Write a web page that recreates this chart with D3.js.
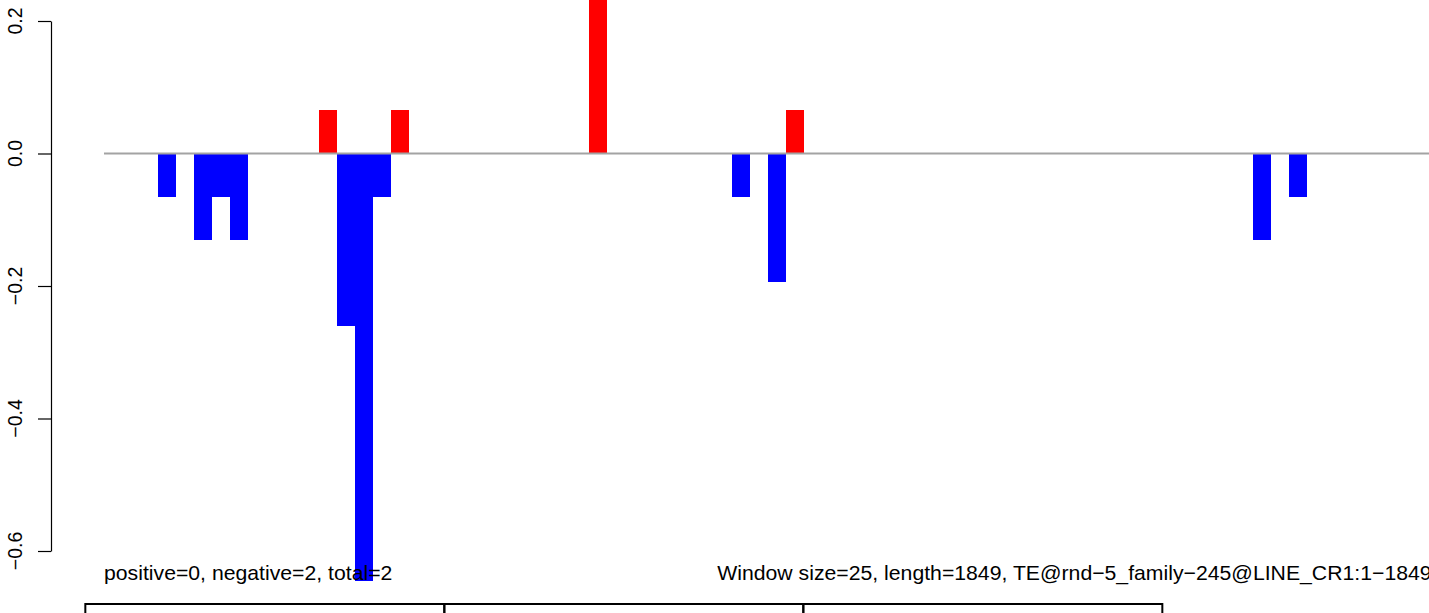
<!DOCTYPE html>
<html>
<head>
<meta charset="utf-8">
<script src="https://cdn.jsdelivr.net/npm/d3@7"></script>
<style>
  html, body { margin: 0; padding: 0; background: #fff; }
  svg { display: block; }
  text { font-family: "Liberation Sans", Arial, Helvetica, sans-serif; fill: #000; }
</style>
</head>
<body>
<svg id="chart" width="1429" height="613"></svg>
<script>
// ---- data ----
const seqLength = 1849;
const windowSize = 25;
const windowIndex = [3, 5, 6, 7, 12, 13, 14, 15, 16, 27, 35, 37, 38, 64, 66];
const windowValue = [-0.065, -0.13, -0.065, -0.13, 0.065, -0.26, -0.645, -0.065, 0.065, 0.26, -0.065, -0.194, 0.065, -0.13, -0.065];
const yTicks = [-0.6, -0.4, -0.2, 0.0, 0.2];
const boxStarts = [-26, 474, 974];
const boxLength = 500;
const leftLabel = "positive=0, negative=2, total=2";
const rightLabel = "Window size=25, length=1849, TE@rnd\u22125_family\u2212245@LINE_CR1:1\u22121849";

// ---- layout ----
const svg = d3.select("#chart");
const x = d3.scaleLinear().domain([0, seqLength]).range([104, 104 + seqLength * 0.718]);
const y = d3.scaleLinear().domain([-0.6, 0.2]).range([551, 21]);
const fmt = v => d3.format(".1f")(v);

// bars
const bars = windowIndex.map((w, i) => ({ start: w * windowSize, end: (w + 1) * windowSize, v: windowValue[i] }));
svg.append("g").selectAll("rect").data(bars).join("rect")
  .attr("x", d => x(d.start))
  .attr("width", d => x(d.end) - x(d.start))
  .attr("y", d => y(Math.max(0, d.v)))
  .attr("height", d => Math.abs(y(d.v) - y(0)))
  .attr("fill", d => d.v > 0 ? "#ff0000" : "#0000ff")
  .attr("shape-rendering", "crispEdges");

// zero line
svg.append("line")
  .attr("x1", x(0)).attr("x2", x(seqLength))
  .attr("y1", y(0)).attr("y2", y(0))
  .attr("stroke", "#a3a3a3").attr("stroke-width", 2);

// y axis
const axis = d3.axisLeft(y).tickValues(yTicks).tickSize(13).tickSizeOuter(0).tickFormat("");
const ag = svg.append("g").attr("transform", "translate(51,0)").call(axis);
ag.select(".domain").attr("stroke", "#000").attr("stroke-width", 1.2);
ag.selectAll(".tick line").attr("stroke", "#000").attr("stroke-width", 1.2);
svg.append("g").selectAll("text").data(yTicks).join("text")
  .attr("transform", d => `translate(22,${y(d)}) rotate(-90)`)
  .attr("text-anchor", "middle")
  .style("font-size", "19.5px")
  .text(d => fmt(d));

// bottom texts
svg.append("text")
  .attr("transform", `translate(${x(0)},580) scale(1.035,1)`)
  .style("font-size", "20.5px")
  .text(leftLabel);
svg.append("text")
  .attr("transform", `translate(${x(seqLength)},580) scale(1.035,1)`)
  .attr("text-anchor", "end")
  .style("font-size", "20.5px")
  .text(rightLabel);

// boxes below
svg.append("g").selectAll("rect").data(boxStarts).join("rect")
  .attr("x", d => x(d))
  .attr("width", x(boxLength) - x(0))
  .attr("y", 604)
  .attr("height", 40)
  .attr("fill", "none")
  .attr("stroke", "#000")
  .attr("stroke-width", 2);
</script>
</body>
</html>
